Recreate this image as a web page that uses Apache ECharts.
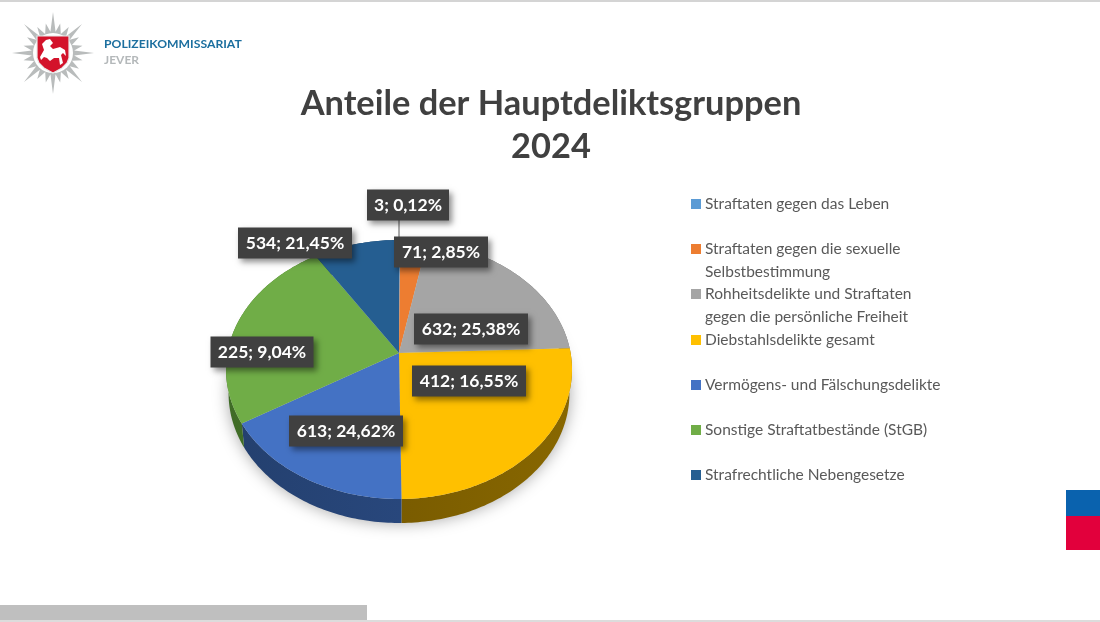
<!DOCTYPE html>
<html>
<head>
<meta charset="utf-8">
<title>Anteile der Hauptdeliktsgruppen 2024</title>
<script src="https://cdn.jsdelivr.net/npm/echarts@6/dist/echarts.min.js"></script>
<style>
  html, body { margin: 0; padding: 0; background: #fff; }
  #chart { width: 1100px; height: 622px; }
</style>
</head>
<body>
<div id="chart"></div>
<script>
// Chart data
var categories = [
  'Straftaten gegen das Leben',
  'Straftaten gegen die sexuelle\nSelbstbestimmung',
  'Rohheitsdelikte und Straftaten\ngegen die persönliche Freiheit',
  'Diebstahlsdelikte gesamt',
  'Vermögens- und Fälschungsdelikte',
  'Sonstige Straftatbestände (StGB)',
  'Strafrechtliche Nebengesetze'
];
var values = [3, 71, 534, 632, 412, 613, 225];
var percents = ['0,12', '2,85', '21,45', '25,38', '16,55', '24,62', '9,04'];
var colors = ['#5b9bd5', '#ed7d31', '#a5a5a5', '#ffc000', '#4472c4', '#70ad47', '#255e91'];
var sideColors = ['#2e6391', '#8f4a1a', '#636363', '#7a5c00', '#24406f', '#3f6b26', '#163a5a'];
var legendRows = [204, 249, 294, 340, 385, 430, 475];
var labelCenters = [[408, 205], [441, 252], [295, 243], [471, 329], [469, 381], [346, 431], [262, 352]];

var total = values.reduce(function(a, b) { return a + b; }, 0);

// Tilted pie: circle seen in perspective
var pie = { cx: 399, cy: 353, rx: 171.6, ry: 127.4, k: 0.1274, depth: 24, bottomScale: 0.985 };

function project(angle) {
  var u = Math.sin(angle);
  var v = -Math.cos(angle);
  var d = 1 - pie.k * v;
  return [pie.cx + pie.rx * u / d, pie.cy + pie.ry * v / d];
}

function lower(p) {
  return [pie.cx + (p[0] - pie.cx) * pie.bottomScale, p[1] + pie.depth];
}

function arcPoints(from, to) {
  var pts = [];
  var steps = Math.max(2, Math.ceil((to - from) / (Math.PI / 180)));
  for (var i = 0; i <= steps; i++) {
    pts.push(project(from + (to - from) * i / steps));
  }
  return pts;
}

function renderSlice(params, api) {
  var idx = params.dataIndex;
  var before = 0;
  for (var i = 0; i < idx; i++) {
    before += values[i];
  }
  var value = api.value(0);
  var from = echarts.number.linearMap(before, [0, total], [0, Math.PI * 2]);
  var to = echarts.number.linearMap(before + value, [0, total], [0, Math.PI * 2]);
  var arc = arcPoints(from, to);
  var children = [];

  // soft shadow under the whole pie
  if (idx === 0) {
    children.push({
      type: 'polygon',
      z2: 1,
      shape: { points: arcPoints(0, Math.PI * 2).map(lower) },
      style: { fill: '#d4d4d4', shadowBlur: 16, shadowColor: 'rgba(0,0,0,0.35)' }
    });
  }

  // side wall
  children.push({
    type: 'polygon',
    z2: 2,
    shape: { points: arc.concat(arc.map(lower).reverse()) },
    style: {
      fill: new echarts.graphic.LinearGradient(0, 0, 1, 0, [
        { offset: 0, color: sideColors[idx] },
        { offset: 1, color: echarts.color.lift(sideColors[idx], -0.12) }
      ])
    }
  });

  // top surface
  children.push({
    type: 'polygon',
    z2: 3,
    shape: { points: [[pie.cx, pie.cy]].concat(arc) },
    style: { fill: colors[idx] }
  });

  // data label
  var c = labelCenters[idx];
  var w = String(value).length >= 3 ? 114 : (value >= 10 ? 94 : 82);
  if (idx === 6) {
    w = 103;
  }
  if (idx === 0) {
    children.push({
      type: 'line',
      z2: 4,
      shape: { x1: pie.cx, y1: c[1] + 14, x2: pie.cx, y2: project(from)[1] + 6 },
      style: { stroke: '#595959', lineWidth: 1 }
    });
  }
  children.push({
    type: 'rect',
    z2: 5,
    shape: { x: c[0] - w / 2, y: c[1] - 15.5, width: w, height: 31 },
    style: { fill: '#404040', shadowBlur: 6, shadowOffsetX: 3, shadowOffsetY: 3, shadowColor: 'rgba(0,0,0,0.45)' }
  });
  children.push({
    type: 'text',
    z2: 6,
    style: {
      x: c[0], y: c[1],
      text: value + '; ' + percents[idx] + '%',
      fill: '#ffffff',
      font: 'bold 17.5px Lato',
      align: 'center',
      verticalAlign: 'middle'
    }
  });

  return { type: 'group', children: children };
}

// Legend rows (first line of the text sits next to the square)
function legendGraphics() {
  var items = [];
  categories.forEach(function(name, i) {
    items.push({
      type: 'rect',
      shape: { x: 691, y: legendRows[i] - 5, width: 10, height: 10 },
      style: { fill: colors[i] }
    });
    items.push({
      type: 'text',
      style: {
        x: 705, y: legendRows[i] - 11,
        text: name,
        fill: '#595959',
        font: '15.5px Lato',
        lineHeight: 22.6
      }
    });
  });
  return items;
}

// Police star logo
function starPoints() {
  var pts = [];
  for (var i = 0; i < 8; i++) {
    var base = i * Math.PI / 4;
    [[-0.24, 0.74], [-0.12, 0.52], [0, 1], [0.12, 0.52], [0.24, 0.74], [0.39, 0.5]].forEach(function(s) {
      var a = base + s[0];
      pts.push([53 + 41 * s[1] * Math.sin(a), 53 - 41 * s[1] * Math.cos(a)]);
    });
  }
  return pts;
}

function logoGraphics() {
  return [
    { type: 'polygon', shape: { points: starPoints() }, style: { fill: '#b9bcbc' } },
    { type: 'circle', shape: { cx: 53, cy: 53, r: 20 }, style: { fill: '#ffffff' } },
    {
      type: 'polygon',
      shape: { points: [[37, 36], [69, 36], [69, 58], [67, 63], [62, 68], [53, 73], [44, 68], [39, 63], [37, 58]] },
      style: { fill: '#d3132b', stroke: '#e8e8e8', lineWidth: 1.2 }
    },
    {
      type: 'polygon',
      shape: { points: [[40, 57], [44, 50], [42, 44], [46, 40], [50, 39], [53, 43], [50, 46], [53, 49], [60, 47], [65, 50], [66, 56], [63, 53], [61, 55], [63, 63], [60, 65], [59, 58], [54, 58], [50, 61], [47, 58], [44, 57], [41, 60]] },
      style: { fill: '#ffffff' }
    },
    {
      type: 'text',
      style: { x: 104, y: 38, text: 'POLIZEIKOMMISSARIAT', fill: '#1c6f9f', font: 'bold 12.2px Lato' }
    },
    {
      type: 'text',
      style: { x: 104, y: 54, text: 'JEVER', fill: '#b4b8ba', font: 'bold 12px Lato' }
    }
  ];
}

function frameGraphics() {
  return [
    { type: 'rect', shape: { x: 0, y: 0, width: 1100, height: 2 }, style: { fill: '#d4d4d4' } },
    { type: 'rect', shape: { x: 0, y: 620, width: 1100, height: 2 }, style: { fill: '#dcdcdc' } },
    { type: 'rect', shape: { x: 0, y: 605, width: 367, height: 15 }, style: { fill: '#bfbfbf' } },
    { type: 'rect', shape: { x: 1066, y: 490, width: 34, height: 27 }, style: { fill: '#0a62ae' } },
    { type: 'rect', shape: { x: 1066, y: 516, width: 34, height: 34 }, style: { fill: '#e2003c' } }
  ];
}

var chart = echarts.init(document.getElementById('chart'), null, { renderer: 'canvas' });
chart.setOption({
  animation: false,
  backgroundColor: '#ffffff',
  title: {
    text: 'Anteile der Hauptdeliktsgruppen\n2024',
    left: 546,
    top: 77,
    textAlign: 'center',
    textStyle: { fontFamily: 'Lato', fontWeight: 'bold', fontSize: 34.4, lineHeight: 43, color: '#404040' }
  },
  graphic: { elements: frameGraphics().concat(logoGraphics(), legendGraphics()) },
  series: [{
    type: 'custom',
    coordinateSystem: 'none',
    silent: true,
    data: values,
    encode: { value: 0 },
    renderItem: renderSlice
  }]
});
</script>
</body>
</html>
